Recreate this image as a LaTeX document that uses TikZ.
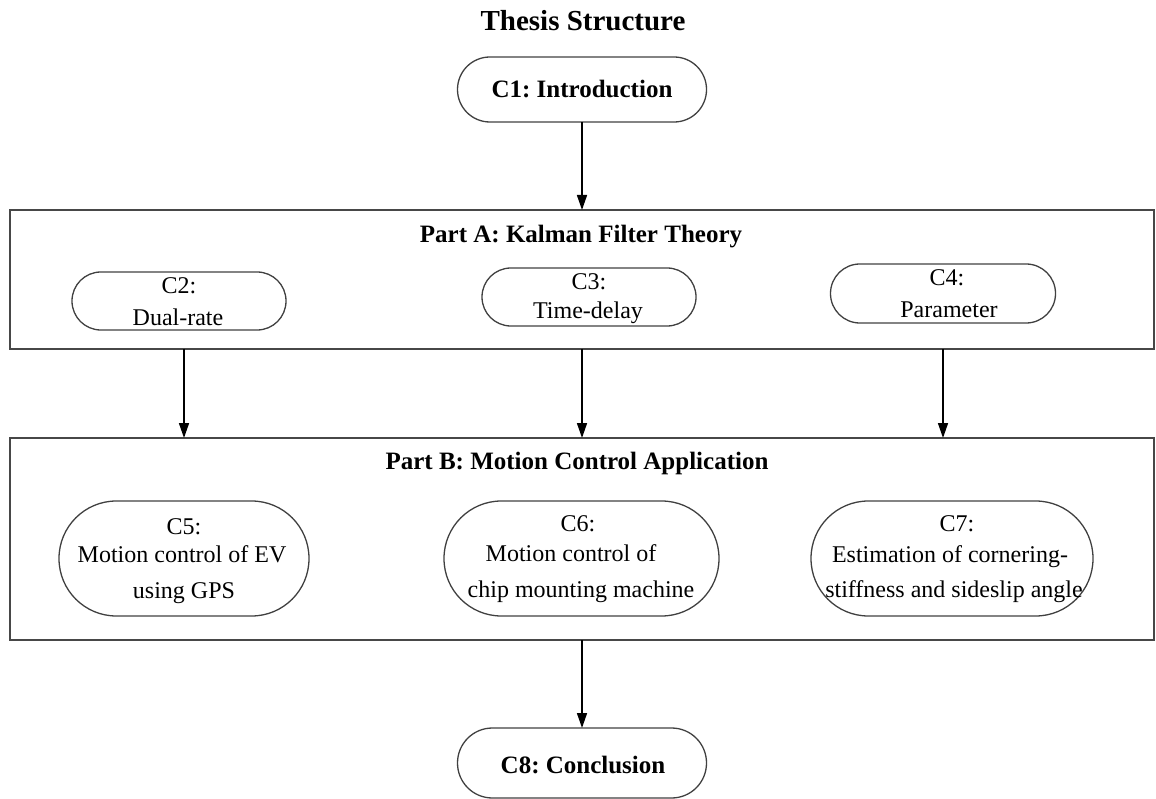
\documentclass[tikz,border=0pt]{standalone}
\usepackage{fontspec}
\setmainfont{Liberation Serif}
\usetikzlibrary{arrows.meta}
\frenchspacing
\begin{document}
\begin{tikzpicture}[x=1pt,y=-1pt,
  every node/.style={inner sep=0pt, outer sep=0pt},
  frame/.style={draw=black!72, line width=1.8pt, rectangle},
  chap/.style={draw=black!75, line width=1.3pt, rectangle},
  arr/.style={-{Triangle[length=15pt,width=10pt]}, line width=1.6pt},
  txt/.style={anchor=base, font=\fontsize{24}{28}\selectfont},
  btxt/.style={anchor=base, font=\fontsize{25}{30}\selectfont\bfseries}]
\useasboundingbox (0,0) rectangle (1156,799);

% title
\node[anchor=base, font=\fontsize{29}{34}\selectfont\bfseries] (title) at (583,31) {Thesis Structure};

% the two part frames
\node[frame, minimum width=1144pt, minimum height=139pt] (partA) at (582,279.5) {};
\node[frame, minimum width=1144pt, minimum height=202pt] (partB) at (582,539) {};
\node[btxt] (partAt) at (581,243) {Part A: Kalman Filter Theory};
\node[btxt] (partBt) at (577,469) {Part B: Motion Control Application};

% chapter boxes
\node[chap, minimum width=249pt, minimum height=65pt, rounded corners=32.4pt] (c1) at (582,89.5) {};
\node[chap, minimum width=214pt, minimum height=58pt, rounded corners=28.9pt] (c2) at (179,301) {};
\node[chap, minimum width=214pt, minimum height=58pt, rounded corners=28.9pt] (c3) at (589,297) {};
\node[chap, minimum width=225pt, minimum height=59pt, rounded corners=29.4pt] (c4) at (943,293.5) {};
\node[chap, minimum width=250pt, minimum height=115pt, rounded corners=57.4pt] (c5) at (184,558.5) {};
\node[chap, minimum width=275pt, minimum height=115pt, rounded corners=57.4pt] (c6) at (581.5,558.5) {};
\node[chap, minimum width=282pt, minimum height=115pt, rounded corners=57.4pt] (c7) at (952,558.5) {};
\node[chap, minimum width=249pt, minimum height=70pt, rounded corners=34.9pt] (c8) at (582,763) {};

% chapter texts
\node[btxt] (c1t) at (582,98) {C1: Introduction};
\node[btxt] (c8t) at (583,773) {C8: Conclusion};

\node[txt] (c2a) at (179,294) {C2:};
\node[txt] (c2b) at (178,326) {Dual-rate};
\node[txt] (c3a) at (589,290) {C3:};
\node[txt] (c3b) at (588,319) {Time-delay};
\node[txt] (c4a) at (947,286) {C4:};
\node[txt] (c4b) at (949,318) {Parameter};

\node[txt] (c5a) at (184,534) {C5:};
\node[txt] (c5b) at (182,562) {Motion control of EV};
\node[txt] (c5c) at (184,598) {using GPS};
\node[txt] (c6a) at (578,531) {C6:};
\node[txt] (c6b) at (571,561) {Motion control of};
\node[txt] (c6c) at (581,597) {chip mounting machine};
\node[txt] (c7a) at (957,531) {C7:};
\node[txt] (c7b) at (950,562) {Estimation of cornering-};
\node[txt] (c7c) at (954,597) {stiffness and sideslip angle};

% connectors
\draw[arr] (c1.south) -- (partA.north);
\draw[arr] (c5 |- partA.south) -- (c5 |- partB.north);
\draw[arr] (partA.south) -- (partB.north);
\draw[arr] (c4 |- partA.south) -- (c4 |- partB.north);
\draw[arr] (partB.south) -- (c8.north);
\end{tikzpicture}
\end{document}
